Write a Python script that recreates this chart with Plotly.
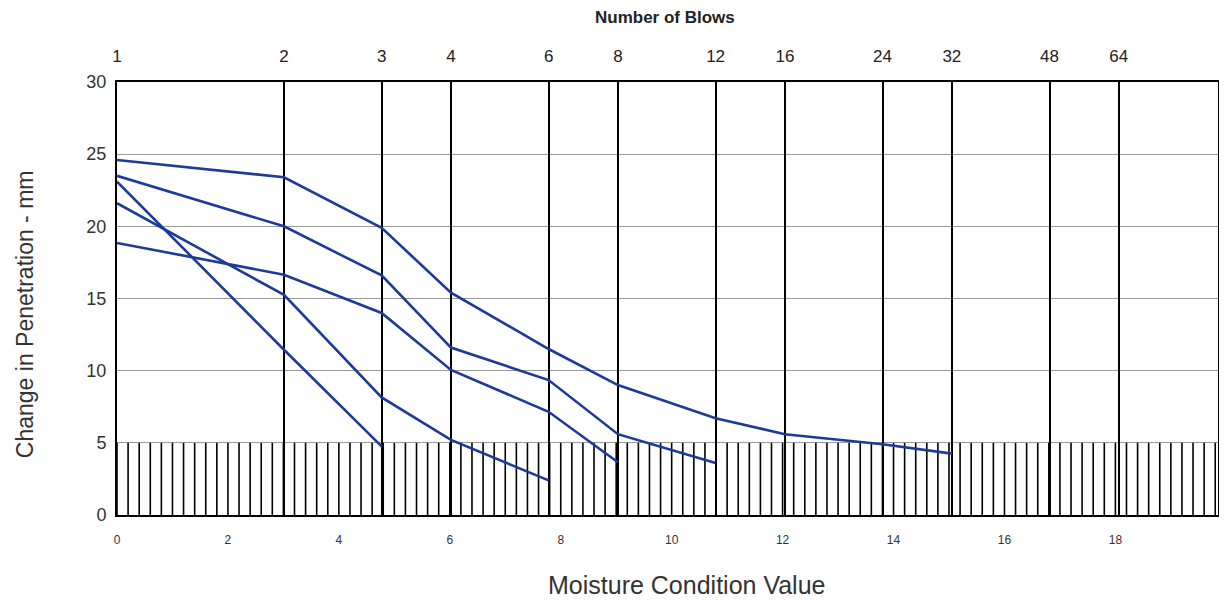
import numpy as np
import plotly.graph_objects as go

# Data
blows_ticks = [1, 2, 3, 4, 6, 8, 12, 16, 24, 32, 48, 64]
blows_A = [1, 2, 3, 4, 6, 8, 12, 16, 24, 32]
pen_A = [24.6, 23.4, 19.9, 15.4, 11.5, 9.0, 6.7, 5.6, 4.9, 4.25]
blows_B = [1, 2, 3, 4, 6, 8, 12]
pen_B = [23.5, 20.0, 16.6, 11.6, 9.35, 5.6, 3.6]
blows_C = [1, 2, 3, 4, 6]
pen_C = [21.6, 15.25, 8.15, 5.2, 2.4]
blows_D = [1, 2, 3]
pen_D = [23.1, 11.45, 4.75]
blows_E = [1, 2, 3, 4, 6, 8]
pen_E = [18.85, 16.65, 14.0, 10.05, 7.15, 3.65]
mcv_ticks = [0, 2, 4, 6, 8, 10, 12, 14, 16, 18]
pen_ticks = [0, 5, 10, 15, 20, 25, 30]

MCV_MAX = 19.85
HATCH_TOP = 5
HATCH_STEP = 0.2

LINE_COLOR = "#1d3a9a"
FONT = "Liberation Sans, Arial, sans-serif"

fig = go.Figure()

# Hatched zone below 5 mm
hx, hy = [], []
for xv in np.arange(0, MCV_MAX, HATCH_STEP):
    hx += [xv, xv, None]
    hy += [0, HATCH_TOP, None]
fig.add_trace(go.Scatter(x=hx, y=hy, mode="lines", xaxis="x", yaxis="y",
                         line=dict(color="black", width=1.6),
                         hoverinfo="skip", showlegend=False))

for bx, py in [(blows_A, pen_A), (blows_B, pen_B), (blows_C, pen_C),
               (blows_D, pen_D), (blows_E, pen_E)]:
    fig.add_trace(go.Scatter(x=bx, y=py, mode="lines", xaxis="x2", yaxis="y",
                             line=dict(color=LINE_COLOR, width=2.6),
                             showlegend=False))

PLOT_H = 433
PLOT_W = 1103

fig.update_layout(
    width=1219, height=593,
    margin=dict(l=109, r=7, t=74, b=86),
    paper_bgcolor="white", plot_bgcolor="white",
    font=dict(family=FONT, color="#222"),
    xaxis=dict(range=[0, MCV_MAX], tickvals=mcv_ticks, showgrid=False,
               zeroline=False, ticks="outside", ticklen=13,
               tickcolor="rgba(0,0,0,0)", tickfont=dict(size=12, color="#333"),
               showline=True, linecolor="black", linewidth=2, mirror=True),
    xaxis2=dict(type="log", range=[0, MCV_MAX / 10], overlaying="x",
                side="top", tickvals=blows_ticks,
                ticktext=[str(b) for b in blows_ticks],
                showgrid=True, gridcolor="black", gridwidth=2,
                zeroline=False, ticks="outside", ticklen=12,
                tickcolor="rgba(0,0,0,0)", tickfont=dict(size=17, color="#222"),
                showline=False),
    yaxis=dict(range=[0, 30], tickvals=pen_ticks, showgrid=True,
               gridcolor="#9a9a9a", gridwidth=1, zeroline=False,
               ticks="outside", ticklen=5, tickcolor="rgba(0,0,0,0)",
               tickfont=dict(size=18, color="#333"),
               showline=True, linecolor="black", linewidth=2, mirror=True),
    annotations=[
        dict(text="<b>Number of Blows</b>", xref="paper", yref="paper",
             x=(666 - 117) / PLOT_W, y=1 + (82 - 17) / PLOT_H,
             xanchor="center", yanchor="middle",
             showarrow=False, font=dict(size=17, color="#222")),
        dict(text="Moisture Condition Value", xref="paper", yref="paper",
             x=(688 - 117) / PLOT_W, y=-(585 - 515) / PLOT_H, xanchor="center",
             yanchor="middle", showarrow=False,
             font=dict(size=25, color="#333")),
        dict(text="Change in Penetration - mm", xref="paper", yref="paper",
             x=-(117 - 25) / PLOT_W, y=(515 - 314) / PLOT_H, xanchor="center",
             yanchor="middle", textangle=-90, showarrow=False,
             font=dict(size=23, color="#333")),
    ],
)

fig.write_html("out.html")
